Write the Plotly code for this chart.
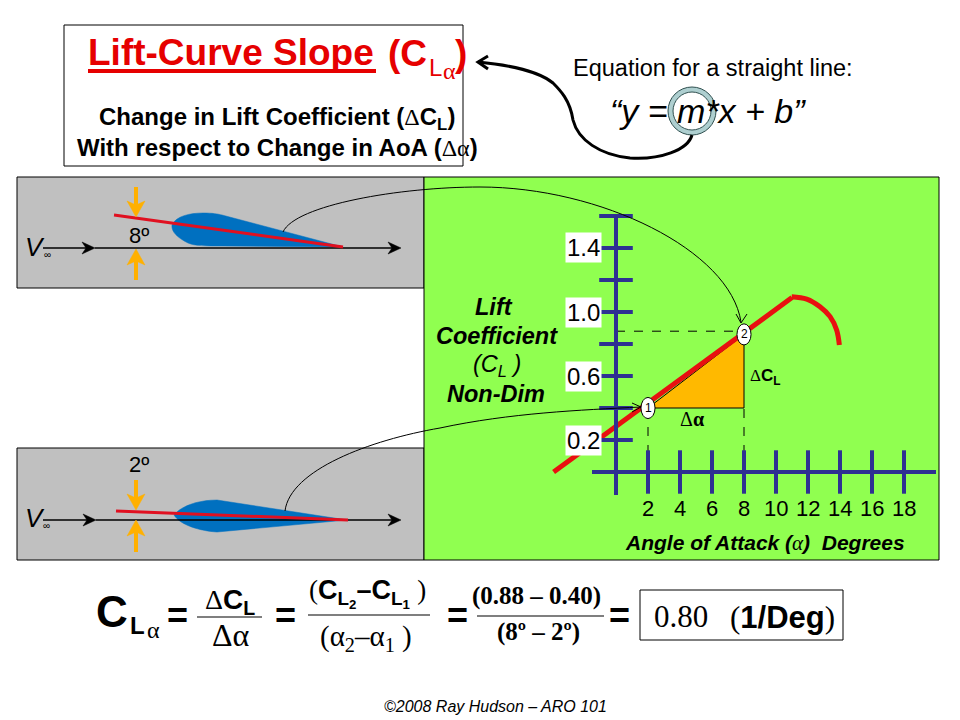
import math
import plotly.graph_objects as go

# lift curve values
aoa_ticks = [2, 4, 6, 8, 10, 12, 14, 16, 18]
cl_ticks = [0.2, 0.4, 0.6, 0.8, 1.0, 1.2, 1.4, 1.6]
cl_label_vals = [0.2, 0.6, 1.0, 1.4]
cl_label_text = ["0.2", "0.6", "1.0", "1.4"]
line_aoa = [-3.9, 11.0]
line_cl = [0.0, 1.09]
stall_aoa = [10.98, 11.92, 12.75, 13.38, 13.79, 13.96]
stall_cl = [1.096, 1.081, 1.033, 0.971, 0.888, 0.794]
pt_aoa = [2, 8]
pt_cl = [0.40, 0.86]
pt_names = ["1", "2"]
dash_cl = 0.88

NAVY = "#2E3192"
RED = "#E81010"
SANS = "Liberation Sans"
SERIF = "Liberation Serif"
SERIF_SPAN = "<span style='font-family:Liberation Serif'>%s</span>"

fig = go.Figure()
shapes = []
notes = []


def txt(x, y, s, size, color="black", font=SANS, xanchor="center", **kw):
    notes.append(dict(x=x, y=y, xref="x", yref="y", text=s, showarrow=False, xanchor=xanchor, yanchor="middle",
                      font=dict(family=font, size=size, color=color), **kw))


def rect(x0, y0, x1, y1, fill, line="black"):
    shapes.append(dict(type="rect", xref="x", yref="y", x0=x0, y0=y0, x1=x1, y1=y1, fillcolor=fill,
                       line=dict(color=line, width=1), layer="below"))


def path(d, color="black", width=1.0, fill=None, layer="above"):
    shapes.append(dict(type="path", xref="x", yref="y", path=d, fillcolor=fill or "rgba(0,0,0,0)",
                       line=dict(color=color, width=width), layer=layer))


def ln(x0, y0, x1, y1, color="black", width=1.0):
    shapes.append(dict(type="line", xref="x", yref="y", x0=x0, y0=y0, x1=x1, y1=y1,
                       line=dict(color=color, width=width)))


def arrow(x0, y0, x1, y1, color="black", width=1.0, head=13, spread=6, notch=4):
    # shaft plus a notched filled head
    d = math.hypot(x1 - x0, y1 - y0)
    ux, uy = (x1 - x0) / d, (y1 - y0) / d
    bx, by = x1 - ux * head, y1 - uy * head
    nx, ny = x1 - ux * (head - notch), y1 - uy * (head - notch)
    ln(x0, y0, nx, ny, color, width)
    path(f"M{x1},{y1} L{bx - uy * spread},{by + ux * spread} L{nx},{ny} L{bx + uy * spread},{by - ux * spread} Z",
         color, 0.5, color)


# panels
rect(64, 25, 463, 166, "white")
rect(17, 177, 424, 288, "#C0C0C0")
rect(17, 448, 424, 560, "#C0C0C0")
rect(424, 177, 939, 560, "#90FF50")
rect(640, 590, 843, 640, "white")

# title box
txt(231, 52, "<b>Lift-Curve Slope</b>", 37, "#E60000")
ln(88, 71, 376, 71, "#E60000", 4)
txt(386, 53, "<b>(C</b>", 37, "#E60000", xanchor="left")
txt(427, 67, "L", 24, "#E60000", xanchor="left")
txt(441, 71, "α", 24, "#E60000", SERIF, xanchor="left")
txt(453, 53, "<b>)</b>", 37, "#E60000", xanchor="left")
txt(277, 118, "<b>Change in Lift Coefficient (</b>" + SERIF_SPAN % "Δ" + "<b>C<sub>L</sub>)</b>", 24)
txt(277, 147, "<b>With respect to Change in AoA (</b>" + SERIF_SPAN % "Δα" + "<b>)</b>", 24)

# straight line equation
txt(713, 68, "Equation for a straight line:", 23.5)
txt(708, 111, "<i>“y = m*x + b”</i>", 34)
for r, c, w in [(21.5, "#AECFD0", 5), (24, "#2F4F4F", 1), (19, "#2F4F4F", 1)]:
    shapes.append(dict(type="circle", xref="x", yref="y", x0=692 - r, x1=692 + r, y0=111 - r, y1=111 + r,
                       line=dict(color=c, width=w)))
path("M692,135 C688,150 660,160 630,158 C600,155 578,140 573,120 C570,100 560,90 553,83 C540,72 510,65 478,62",
     "black", 3)
path("M488,56 L478,62 L488,69", "black", 3)

# top airfoil, 8 deg
path("M172,225 C176,216 190,213 203,213 C213,213 218,214 222,215 L343,247 L222,246 C205,246 195,246 188,243 "
     "C178,238 171,232 172,225 Z", "#0070C0", 0.5, "#0070C0")
arrow(43, 248, 95, 248, width=1.3)
arrow(95, 248, 401, 248, width=1.3)
ln(114, 215, 343, 247, "#E01020", 3)
arrow(136, 187, 136, 217, "#FFB000", 4, head=16, spread=9)
arrow(136, 280, 136, 249, "#FFB000", 4, head=16, spread=9)
txt(139, 235, "8º", 22)
txt(35, 247, "<i>V</i>", 26)
txt(47, 254, "∞", 10)

# bottom airfoil, 2 deg
path("M174,515 C182,505 200,500 217,500 L347,520 L217,532 C200,531 180,525 174,515 Z", "#0070C0", 0.5, "#0070C0")
arrow(43, 520, 96, 520, width=1.3)
arrow(96, 520, 401, 520, width=1.3)
ln(116, 511, 348, 520, "#E01020", 3)
arrow(136, 480, 136, 510, "#FFB000", 4, head=16, spread=9)
arrow(136, 552, 136, 520, "#FFB000", 4, head=16, spread=9)
txt(139, 464, "2º", 22)
txt(35, 518, "<i>V</i>", 26)
txt(46, 525, "∞", 10)

# thin connectors to the curve
path("M283,232 C295,205 400,187 480,187 C600,187 730,250 741,322", "black", 1)
path("M736,314 L741,323 L747,314", "black", 1)
path("M285,511 C290,470 370,440 440,428 C510,413 580,410 641,407", "black", 1)
path("M632,403 L641,407 L632,412", "black", 1)

# axis titles
txt(494, 307, "<b><i>Lift</i></b>", 23.5)
txt(497, 336, "<b><i>Coefficient</i></b>", 23.5)
txt(497, 365, "<i>(C<sub>L</sub> )</i>", 23.5)
txt(496, 394, "<b><i>Non-Dim</i></b>", 23.5)
txt(765, 543, "<b><i>Angle of Attack (</i></b><i style='font-family:Liberation Serif'>α</i><b><i>)  Degrees</i></b>", 21)
txt(692, 419, SERIF_SPAN % "Δ<b>α</b>", 20)
txt(765, 377, SERIF_SPAN % "Δ" + "<b>C<sub>L</sub></b>", 17)

# formula
txt(112, 611, "<b>C</b>", 44)
txt(137, 625, "<b>L</b>", 24)
txt(153, 630, "α", 24, font=SERIF)
txt(177, 615, "<b>=</b>", 36)
txt(230, 601, SERIF_SPAN % "Δ" + "<b>C<sub>L</sub></b>", 28)
ln(197, 617, 262, 617, "#555555", 1.5)
txt(231, 635, "Δα", 32, font=SERIF)
txt(285, 615, "<b>=</b>", 36)
txt(367, 593, SERIF_SPAN % "(" + "<b>C<sub>L<sub>2</sub></sub>–C<sub>L<sub>1</sub></sub></b> " + SERIF_SPAN % ")", 27)
ln(308, 615, 430, 615, "#555555", 1.5)
txt(366, 638, "(α<sub>2</sub>–α<sub>1</sub> )", 29, font=SERIF)
txt(457, 615, "<b>=</b>", 36)
txt(536, 596, "<b>(0.88 – 0.40)</b>", 25, font=SERIF)
ln(477, 616, 604, 616, "#555555", 1.5)
txt(538, 632, "<b>(8º – 2º)</b>", 25, font=SERIF)
txt(619, 615, "<b>=</b>", 36)
txt(681, 616, "0.80", 31, font=SERIF)
txt(782, 617, SERIF_SPAN % "(" + "<b>1/Deg</b>" + SERIF_SPAN % ")", 31)
txt(495, 706, "<i>©2008 Ray Hudson – ARO 101</i>", 16)

# chart in its own axes, 16 px per degree and 160 px per unit of CL
fig.add_trace(go.Scatter(x=[pt_aoa[0], pt_aoa[1], pt_aoa[1], pt_aoa[0]], y=[pt_cl[0], pt_cl[0], pt_cl[1], pt_cl[0]],
                         mode="lines", fill="toself", fillcolor="#FFB900", line=dict(color="black", width=1),
                         xaxis="x2", yaxis="y2"))
for a in pt_aoa:
    fig.add_trace(go.Scatter(x=[a, a], y=[0, pt_cl[0]], mode="lines", line=dict(color="black", width=1, dash="dash"),
                             xaxis="x2", yaxis="y2"))
fig.add_trace(go.Scatter(x=[0, pt_aoa[1]], y=[dash_cl, dash_cl], mode="lines",
                         line=dict(color="black", width=1, dash="dash"), xaxis="x2", yaxis="y2"))
fig.add_trace(go.Scatter(x=line_aoa, y=line_cl, mode="lines", line=dict(color=RED, width=5), xaxis="x2", yaxis="y2"))
fig.add_trace(go.Scatter(x=stall_aoa, y=stall_cl, mode="lines", line=dict(color=RED, width=5, shape="spline"),
                         xaxis="x2", yaxis="y2"))
fig.add_trace(go.Scatter(x=[-1.5, 20], y=[0, 0], mode="lines", line=dict(color=NAVY, width=4), xaxis="x2", yaxis="y2"))
fig.add_trace(go.Scatter(x=[0, 0], y=[-0.144, 1.6], mode="lines", line=dict(color=NAVY, width=4), xaxis="x2", yaxis="y2"))
fig.add_trace(go.Scatter(x=aoa_ticks, y=[0] * len(aoa_ticks), mode="markers", xaxis="x2", yaxis="y2",
                         marker=dict(symbol="line-ns", size=31, line=dict(color=NAVY, width=4))))
fig.add_trace(go.Scatter(x=[0] * len(cl_ticks), y=cl_ticks, mode="markers", xaxis="x2", yaxis="y2",
                         marker=dict(symbol="line-ew", size=24, line=dict(color=NAVY, width=4))))

for a, c, n in zip(pt_aoa, pt_cl, pt_names):
    shapes.append(dict(type="circle", xref="x2", yref="y2", x0=a - 0.44, x1=a + 0.44, y0=c - 0.066, y1=c + 0.066,
                       fillcolor="white", line=dict(color="black", width=1)))
    notes.append(dict(x=a, y=c, xref="x2", yref="y2", text=n, showarrow=False,
                      font=dict(family=SANS, size=12, color="black")))
for a in aoa_ticks:
    notes.append(dict(x=a, y=0, xref="x2", yref="y2", text=str(a), showarrow=False, yshift=-36,
                      font=dict(family=SANS, size=22, color="black")))
for c, s in zip(cl_label_vals, cl_label_text):
    notes.append(dict(x=0, y=c, xref="x2", yref="y2", text=s, showarrow=False, xanchor="right", xshift=-14,
                      bgcolor="white", font=dict(family=SANS, size=24, color="black")))

fig.update_layout(
    width=960, height=720, margin=dict(l=0, r=0, t=0, b=0), showlegend=False,
    paper_bgcolor="white", plot_bgcolor="rgba(0,0,0,0)", hovermode=False,
    xaxis=dict(range=[0, 960], visible=False, domain=[0, 1]),
    yaxis=dict(range=[720, 0], visible=False, domain=[0, 1]),
    xaxis2=dict(range=[-4.5, 20.5], domain=[544 / 960, 944 / 960], anchor="y2", visible=False),
    yaxis2=dict(range=[-0.2, 1.65], domain=[216 / 720, 512 / 720], anchor="x2", visible=False),
    shapes=shapes, annotations=notes,
)
fig.write_html("out.html", config={"displayModeBar": False}, post_script="document.body.style.margin='0';")
